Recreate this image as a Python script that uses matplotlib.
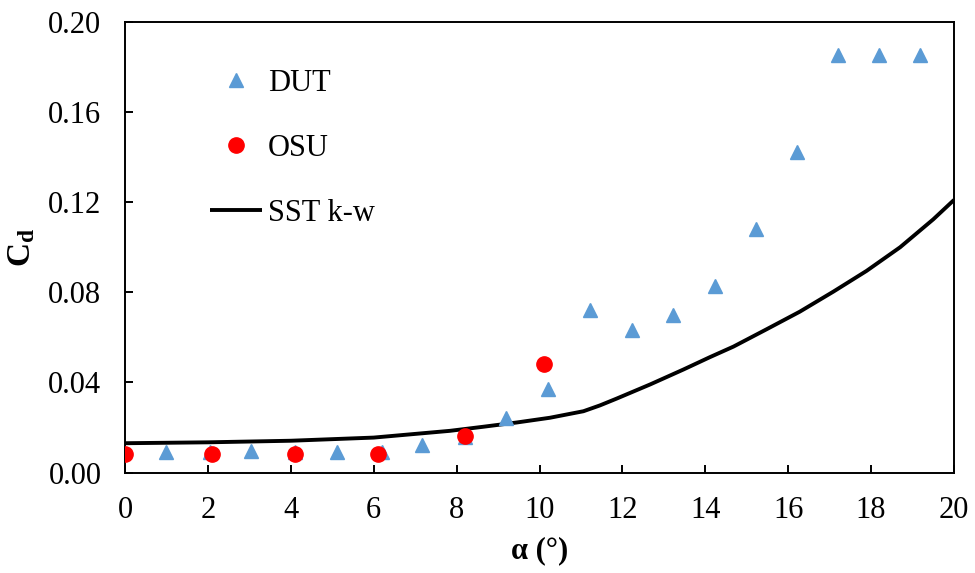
import matplotlib
matplotlib.use("Agg")
import matplotlib.pyplot as plt
from matplotlib.ticker import MultipleLocator, FormatStrFormatter

plt.rcParams['font.family'] = ['Liberation Serif', 'DejaVu Serif']
plt.rcParams['mathtext.fontset'] = 'custom'
plt.rcParams['mathtext.rm'] = 'Liberation Serif'
plt.rcParams['mathtext.bf'] = 'Liberation Serif:bold'

# DUT wind tunnel measurements
dut_alpha = [1.0, 2.05, 3.05, 4.1, 5.12, 6.19, 7.17, 8.2, 9.19, 10.2,
             11.21, 12.23, 13.22, 14.23, 15.23, 16.22, 17.21, 18.19, 19.18]
dut_cd = [0.0093, 0.0093, 0.0095, 0.0090, 0.0090, 0.0090, 0.0121, 0.0157, 0.0243, 0.0370,
          0.0723, 0.0631, 0.0699, 0.0827, 0.1079, 0.1425, 0.1855, 0.1855, 0.1855]

# OSU wind tunnel measurements
osu_alpha = [0.0, 2.11, 4.1, 6.1, 8.2, 10.1]
osu_cd = [0.0083, 0.0083, 0.0083, 0.0083, 0.0164, 0.0483]

# SST k-w simulation
sst_alpha = [0, 2, 4, 6, 7.84, 8.64, 9.45, 10.25, 11.06, 11.46, 11.86, 12.67,
             13.47, 14.11, 14.68, 15.48, 16.28, 17.09, 17.89, 18.70, 19.10, 19.50, 20]
sst_cd = [0.0130, 0.0134, 0.0141, 0.0155, 0.0185, 0.0203, 0.0222, 0.0243, 0.0272,
          0.0298, 0.0328, 0.0391, 0.0457, 0.0512, 0.0559, 0.0636, 0.0714, 0.0803,
          0.0895, 0.1000, 0.1062, 0.1124, 0.1210]

FS = 22

fig = plt.figure(figsize=(9.75, 5.73), dpi=100)
ax = fig.add_axes([125 / 975, 1 - 472.5 / 573, (954 - 125) / 975, (472.5 - 22) / 573])

ax.plot(sst_alpha, sst_cd, color='black', lw=2.8, label='SST k-w', zorder=2,
        solid_capstyle='butt', solid_joinstyle='round')
ax.plot(dut_alpha, dut_cd, linestyle='none', marker='^', markersize=10.5,
        color='#5B9BD5', label='DUT', zorder=3)
ax.plot(osu_alpha, osu_cd, linestyle='none', marker='o', markersize=11,
        color='#FF0000', label='OSU', zorder=4)

ax.set_xlim(0, 20)
ax.set_ylim(0, 0.20)
ax.xaxis.set_major_locator(MultipleLocator(2))
ax.yaxis.set_major_locator(MultipleLocator(0.04))
ax.yaxis.set_major_formatter(FormatStrFormatter('%.2f'))
ax.tick_params(direction='in', length=6, width=1.4, labelsize=FS, pad=17,
               top=False, right=False)
for s in ax.spines.values():
    s.set_linewidth(1.4)

ax.set_xlabel('α (°)', fontsize=FS, fontweight='bold', labelpad=8)
ax.set_ylabel(r'$\mathbf{C_d}$', fontsize=24, labelpad=8)

handles, labels = ax.get_legend_handles_labels()
order = [1, 2, 0]
ax.legend([handles[i] for i in order], [labels[i] for i in order],
          loc='upper left', bbox_to_anchor=(210 / 975, 1 - 69 / 573),
          bbox_transform=fig.transFigure, frameon=False, fontsize=FS,
          borderpad=0, borderaxespad=0, handlelength=1.7, handletextpad=0.2,
          labelspacing=1.18)

fig.savefig('out.png', dpi=100)
